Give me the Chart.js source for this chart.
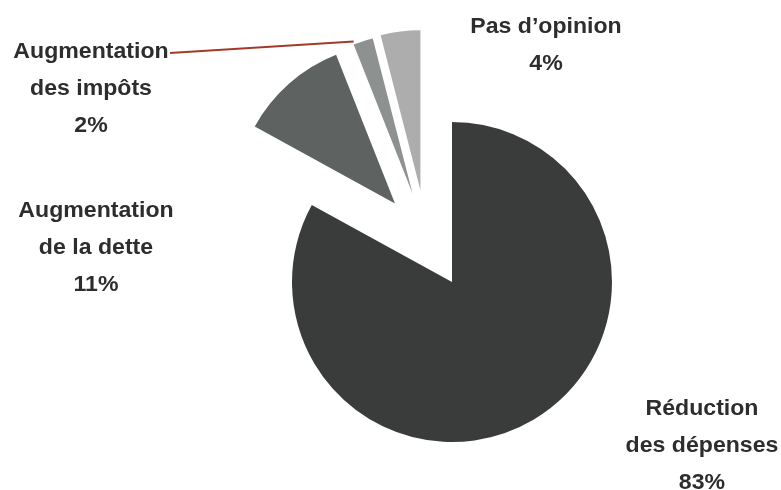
<!DOCTYPE html>
<html>
<head>
<meta charset="utf-8">
<script src="https://cdn.jsdelivr.net/npm/chart.js@4/dist/chart.umd.min.js"></script>
<style>
  html, body { margin: 0; padding: 0; background: #ffffff; }
  #wrap { position: relative; width: 781px; height: 490px; overflow: hidden; }
  canvas { position: absolute; left: 0; top: 0; }
  .lbl {
    position: absolute; width: 220px; text-align: center;
    font-family: "Liberation Sans", Arial, sans-serif; font-weight: bold;
    font-size: 22px; line-height: 37px; color: #2d2d2d;
    transform: scaleX(1.05); white-space: nowrap;
  }
</style>
</head>
<body>
<div id="wrap">
  <canvas id="c" width="781" height="490"></canvas>
</div>
<script>
// ---- data ----
const categories = ['Réduction des dépenses', 'Augmentation de la dette', 'Augmentation des impôts', 'Pas d’opinion'];
const values = [83, 11, 2, 4];
const labelLines = [
  ['Réduction', 'des dépenses'],
  ['Augmentation', 'de la dette'],
  ['Augmentation', 'des impôts'],
  ['Pas d’opinion']
];

// ---- styles ----
const colors = ['#3a3c3c', '#5e6362', '#8d9190', '#adadad'];
const explodeDist = [0, 97, 97, 97];          // px
const explodeDir = [0, -36, -24, -19];        // degrees clockwise from 12 o'clock
const labelCenters = [[702, 389], [96, 191], [91, 32], [546, 7]]; // centre x, top y of each label block
const leaderStart = [170, 53];

// labels as real text
const wrap = document.getElementById('wrap');
labelLines.forEach((lines, i) => {
  const d = document.createElement('div');
  d.className = 'lbl';
  d.style.left = (labelCenters[i][0] - 110) + 'px';
  d.style.top = labelCenters[i][1] + 'px';
  d.innerHTML = lines.concat([values[i] + '%']).join('<br>');
  wrap.appendChild(d);
});

const explodePlugin = {
  id: 'explode',
  afterDatasetsUpdate(chart) {
    const meta = chart.getDatasetMeta(0);
    meta.data.forEach((arc, i) => {
      const a = explodeDir[i] * Math.PI / 180;
      arc.x += explodeDist[i] * Math.sin(a);
      arc.y -= explodeDist[i] * Math.cos(a);
    });
  },
  afterDatasetsDraw(chart) {
    const arc = chart.getDatasetMeta(0).data[2];
    const ex = arc.x + arc.outerRadius * Math.cos(arc.startAngle);
    const ey = arc.y + arc.outerRadius * Math.sin(arc.startAngle) - 3;
    const ctx = chart.ctx;
    ctx.save();
    ctx.strokeStyle = '#a3392b';
    ctx.lineWidth = 2;
    ctx.beginPath();
    ctx.moveTo(leaderStart[0], leaderStart[1]);
    ctx.lineTo(ex, ey);
    ctx.stroke();
    ctx.restore();
  }
};

new Chart(document.getElementById('c'), {
  type: 'pie',
  data: {
    labels: categories,
    datasets: [{
      data: values,
      backgroundColor: colors,
      borderWidth: 0
    }]
  },
  options: {
    responsive: false,
    devicePixelRatio: 1,
    animation: false,
    radius: 160,
    layout: { padding: { left: 123, right: 0, top: 74, bottom: 0 } },
    plugins: {
      legend: { display: false },
      tooltip: { enabled: false }
    },
    events: []
  },
  plugins: [explodePlugin]
});
</script>
</body>
</html>
